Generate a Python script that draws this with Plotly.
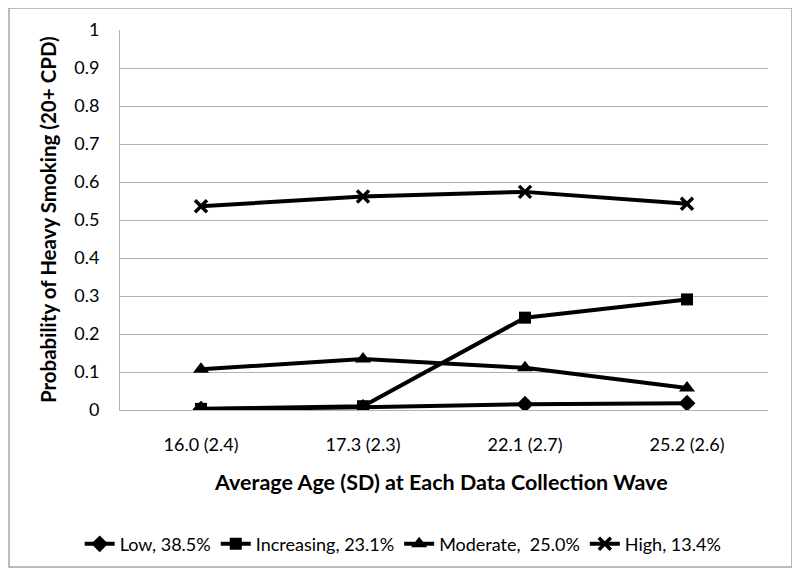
import plotly.graph_objects as go

categories = ["16.0 (2.4)", "17.3 (2.3)", "22.1 (2.7)", "25.2 (2.6)"]
low = [0.002, 0.007, 0.015, 0.018]
increasing = [0.003, 0.010, 0.243, 0.291]
moderate = [0.107, 0.134, 0.111, 0.058]
high = [0.536, 0.562, 0.574, 0.543]
series_names = ["Low, 38.5%", "Increasing, 23.1%", "Moderate,  25.0%", "High, 13.4%"]
y_ticks = [0, 0.1, 0.2, 0.3, 0.4, 0.5, 0.6, 0.7, 0.8, 0.9, 1]
y_tick_labels = ["0", "0.1", "0.2", "0.3", "0.4", "0.5", "0.6", "0.7", "0.8", "0.9", "1"]

FONT = "Lato"
fig = go.Figure()
styles = [
    (low, series_names[0], "diamond", 13, 0),
    (increasing, series_names[1], "square", 12, 0),
    (moderate, series_names[2], "triangle-up", 14, 0),
    (high, series_names[3], "x-thin", 12, 3.5),
]
for vals, name, sym, size, lw in styles:
    fig.add_trace(go.Scatter(
        x=categories, y=vals, name=name, mode="lines+markers",
        line=dict(color="black", width=4),
        marker=dict(symbol=sym, size=size, color="black",
                    line=dict(color="black", width=lw)),
    ))

fig.update_layout(
    width=800, height=577,
    margin=dict(l=112, r=40, t=22, b=175, autoexpand=False),
    paper_bgcolor="white", plot_bgcolor="white",
    font=dict(family=FONT, color="black", size=18),
    showlegend=True,
    legend=dict(orientation="h", x=0.437, xanchor="center", y=-0.353, yanchor="middle",
                font=dict(family=FONT, size=18, color="black"), itemwidth=30,
                traceorder="normal"),
    xaxis=dict(type="category", range=[-0.5, 3.5], showgrid=False, showline=True,
               linecolor="#b3b3b3", linewidth=1, ticks="", tickfont=dict(size=18),
               ticklabelstandoff=18),
    yaxis=dict(range=[0, 1], tickvals=y_ticks, ticktext=y_tick_labels,
               showgrid=True, gridcolor="#b3b3b3", gridwidth=1, zeroline=False,
               showline=True, linecolor="#b3b3b3", linewidth=1, ticks="",
               tickfont=dict(size=18), ticklabelstandoff=16),
    annotations=[
        dict(text="<b>Average Age (SD) at Each Data Collection Wave</b>", xref="paper", yref="paper",
             x=0.496, y=-0.189, xanchor="center", yanchor="middle", showarrow=False,
             font=dict(family=FONT, size=21.5, color="black")),
        dict(text="<b>Probability of Heavy Smoking (20+ CPD)</b>", xref="paper", yref="paper",
             x=-0.111, y=0.5, xanchor="center", yanchor="middle", showarrow=False, textangle=-90,
             font=dict(family=FONT, size=20.5, color="black")),
    ],
    shapes=[dict(type="rect", xref="paper", yref="paper", x0=-0.1713, x1=1.037, y0=-0.413, y1=1.058,
                 line=dict(color="#a6a6a6", width=1.5), fillcolor="rgba(0,0,0,0)", layer="below")],
)

fig.write_html("out.html")
